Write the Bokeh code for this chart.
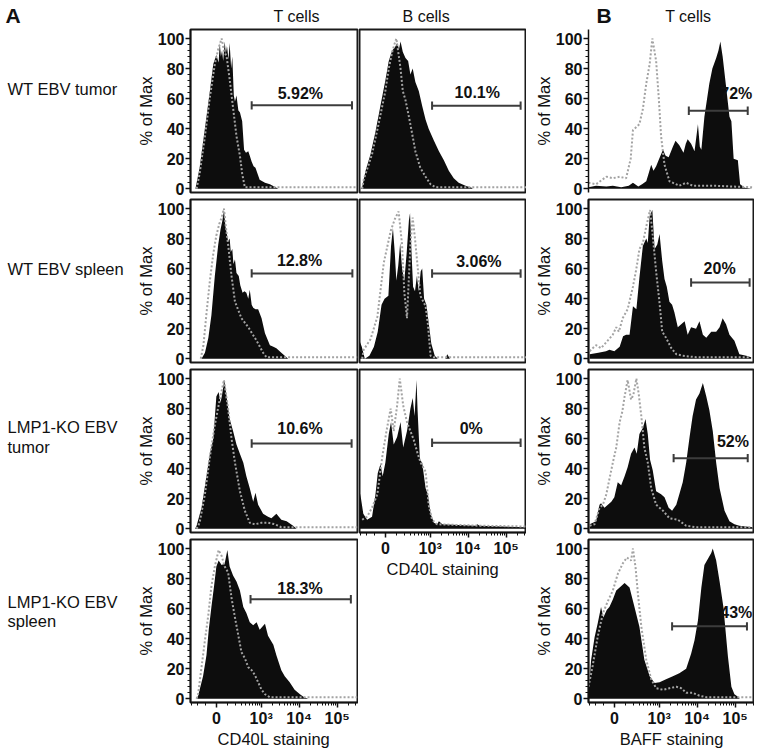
import numpy as np
from bokeh.plotting import figure
from bokeh.models import Range1d, FixedTicker
from bokeh.layouts import row, column
from bokeh.embed import file_html
from bokeh.resources import INLINE
from bokeh.core.properties import value

# ---------------- axis / labels ----------------
# x positions are in display (biexponential) units: 0 -> 1.82, 10^3 -> 3, 10^4 -> 4, 10^5 -> 5
x_tick_pos = [1.82, 3, 4, 5]
x_tick_labels = ["0", "10³", "10⁴", "10⁵"]
y_ticks = [0, 20, 40, 60, 80, 100]
row_labels = ["WT EBV tumor", "WT EBV spleen", "LMP1-KO EBV", "tumor", "LMP1-KO EBV", "spleen"]
col_titles = ["T cells", "B cells", "T cells"]
panel_letters = ["A", "B"]
x_titles = ["CD40L staining", "CD40L staining", "BAFF staining"]

# ---------------- A: T cells, CD40L ----------------
at1_fill_x = [1.27,1.38,1.47,1.56,1.65,1.74,1.82,1.88,1.91,1.94,1.97,2.00,2.04,2.07,2.10,2.14,2.17,2.21,2.24,2.28,2.31,2.35,2.40,2.44,2.50,2.55,2.60,2.66,2.70,2.75,2.80,2.85,2.96,3.10,3.23,3.45]
at1_fill_y = [0,14,31,48,65,83,89,84,97,88,92,85,98,90,95,86,97,80,88,62,58,62,52,51,45,26,24,25,22,18,15,14,6,4,3,0]
at1_ctrl_x = [1.30,1.38,1.52,1.65,1.78,1.87,1.96,2.02,2.09,2.17,2.26,2.35,2.44,2.50,2.57,5.53]
at1_ctrl_y = [0,10,35,61,83,93,100,92,88,73,54,35,22,10,1,1]

at2_fill_x = [1.43,1.52,1.61,1.69,1.78,1.87,1.93,1.98,2.02,2.06,2.09,2.13,2.17,2.20,2.24,2.27,2.31,2.35,2.41,2.45,2.51,2.56,2.61,2.66,2.70,2.75,2.79,2.85,2.92,3.01,3.10,3.23,3.32,3.40,3.53,3.71]
at2_fill_y = [0,4,14,29,55,76,86,92,99,88,84,78,80,71,73,63,66,57,55,49,44,45,44,40,46,36,34,33,33,27,17,9,8,7,4,0]
at2_ctrl_x = [1.41,1.48,1.56,1.65,1.74,1.82,1.90,1.96,2.02,2.07,2.13,2.22,2.31,2.48,2.66,2.88,3.05,3.14,5.53]
at2_ctrl_y = [0,9,30,52,70,82,90,94,100,88,76,55,38,27,21,12,4,1,1]

at3_fill_x = [1.26,1.30,1.43,1.56,1.65,1.74,1.82,1.88,1.93,1.97,2.03,2.09,2.17,2.26,2.35,2.44,2.53,2.61,2.70,2.79,2.85,2.92,3.05,3.18,3.27,3.40,3.53,3.67,3.84,3.93]
at3_fill_y = [0,2,14,35,50,60,88,91,84,89,99,88,73,65,56,50,44,35,27,18,24,16,10,8,7,10,6,5,2,0]
at3_ctrl_x = [1.30,1.38,1.52,1.65,1.78,1.91,2.02,2.13,2.22,2.31,2.44,2.57,2.70,2.83,3.01,3.18,3.36,3.53,5.53]
at3_ctrl_y = [0,4,23,48,69,86,99,80,60,44,25,12,4,3,4,4,3,1,1]

at4_fill_x = [1.30,1.34,1.47,1.56,1.62,1.69,1.76,1.82,1.88,1.96,2.04,2.11,2.17,2.26,2.35,2.44,2.53,2.61,2.70,2.79,2.88,2.96,3.10,3.18,3.32,3.40,3.53,3.62,3.75,3.88,4.02,4.13,4.24]
at4_fill_y = [0,2,15,29,46,61,75,88,92,89,90,99,88,82,78,72,61,57,51,49,51,46,50,42,36,29,19,15,11,6,3,1,0]
at4_ctrl_x = [1.30,1.34,1.43,1.52,1.61,1.69,1.78,1.88,1.96,2.04,2.13,2.22,2.31,2.40,2.48,2.57,2.66,2.75,2.83,2.92,3.01,3.10,3.23,5.53]
at4_ctrl_y = [0,3,21,39,56,75,88,99,95,88,84,67,54,42,31,27,21,19,16,11,6,3,1,1]

at_gate_lo = [2.75, 2.75, 2.75, 2.72]
at_gate_hi = [5.39, 5.40, 5.38, 5.36]
at_gate_y = [55.5, 56.8, 56.7, 66.2]
at_label_x = [4.03, 4.01, 4.02, 4.02]
at_label_y = [63.1, 65.2, 66.7, 73.6]
at_pct = ["5.92%", "12.8%", "10.6%", "18.3%"]

# ---------------- A: B cells, CD40L ----------------
ab1_fill_x = [1.17,1.21,1.30,1.43,1.56,1.69,1.82,1.91,2.00,2.07,2.13,2.18,2.22,2.28,2.35,2.42,2.48,2.54,2.61,2.70,2.79,2.88,2.96,3.10,3.23,3.36,3.49,3.62,3.75,3.93,4.11]
ab1_fill_y = [0,1,12,23,38,55,72,85,92,94,97,93,98,91,87,85,76,80,71,65,55,46,40,32,25,19,12,7,4,2,0.5]
ab1_ctrl_x = [1.21,1.25,1.47,1.65,1.82,1.91,2.00,2.07,2.11,2.16,2.22,2.28,2.35,2.44,2.53,2.61,2.74,2.88,3.01,3.14,5.53]
ab1_ctrl_y = [0,6,23,44,65,80,91,97,100,91,80,65,59,48,36,25,14,8,3,1,1]

ab2_fill_x = [1.14,1.20,1.28,1.40,1.52,1.62,1.72,1.80,1.90,1.97,2.02,2.07,2.11,2.16,2.21,2.26,2.32,2.38,2.44,2.47,2.51,2.55,2.60,2.65,2.70,2.75,2.79,2.84,2.90,2.97,3.03,3.12,3.20,3.40,3.45,3.52]
ab2_fill_y = [12,8,0,2,8,18,36,40,42,75,87,70,52,62,77,60,52,70,92,97,70,48,45,55,45,58,60,40,36,22,10,2,0,0,3,0]
ab2_ctrl_x = [1.21,1.25,1.43,1.61,1.78,1.96,2.07,2.17,2.26,2.32,2.39,2.48,2.54,2.60,2.66,2.74,2.88,2.94,3.01,3.10,5.53]
ab2_ctrl_y = [0,6,13,28,64,85,93,98,76,44,27,76,94,80,64,42,35,23,2,1,1]

ab3_fill_x = [1.15,1.18,1.24,1.34,1.47,1.56,1.62,1.69,1.75,1.82,1.91,1.97,2.04,2.13,2.22,2.29,2.39,2.48,2.54,2.59,2.64,2.67,2.73,2.79,2.88,2.94,3.01,3.10,3.18,3.23,3.32,4.20,4.24,4.30,5.53]
ab3_fill_y = [24,20,10,6,8,23,37,43,35,44,63,71,56,61,71,54,65,80,87,75,99,78,46,44,27,23,10,4,3,5,3,2,3,2,1]
ab3_ctrl_x = [1.21,1.34,1.47,1.61,1.74,1.85,1.96,2.04,2.13,2.20,2.29,2.39,2.48,2.57,2.67,2.75,2.88,2.96,3.05,3.18,4.32,5.53]
ab3_ctrl_y = [6,8,14,23,48,65,80,65,82,100,82,71,65,59,50,44,38,16,6,3,2,1.5]

ab_gate_lo = [3.05, 3.05, 3.05]
ab_gate_hi = [5.38, 5.38, 5.38]
ab_gate_y = [55.3, 56.7, 57.2]
ab_label_x = [4.24, 4.28, 4.08]
ab_label_y = [64.2, 65.0, 66.7]
ab_pct = ["10.1%", "3.06%", "0%"]

# ---------------- B: T cells, BAFF ----------------
bt1_fill_x = [1.14,1.34,1.61,1.78,2.00,2.20,2.31,2.45,2.55,2.66,2.72,2.79,2.85,2.92,3.00,3.10,3.17,3.25,3.36,3.43,3.53,3.64,3.70,3.75,3.84,3.93,4.02,4.07,4.11,4.19,4.32,4.40,4.50,4.56,4.61,4.67,4.76,4.85,4.90,4.96,5.07,5.13,5.25,5.45]
bt1_fill_y = [1,2,1.5,2,1,2,4,1.5,3,5,10,16,12,15,20,26,22,21,28,32,29,24,30,33,30,25,43,28,26,48,70,80,87,92,98,88,68,48,45,20,19,3,0.7,0]
bt1_ctrl_x = [1.14,1.34,1.50,1.61,1.78,1.96,2.13,2.25,2.31,2.48,2.57,2.66,2.75,2.82,2.92,2.99,3.05,3.14,3.27,3.53,3.71,3.88,4.41,5.45]
bt1_ctrl_y = [4,3,6,8,7,8,7,20,39,43,53,70,83,100,85,60,35,16,5,2,4,2,2,1]

bt2_fill_x = [1.17,1.40,1.60,1.69,1.82,1.96,2.05,2.13,2.22,2.31,2.40,2.48,2.57,2.66,2.70,2.75,2.82,2.88,2.95,3.01,3.08,3.14,3.20,3.27,3.34,3.40,3.49,3.58,3.67,3.75,3.84,3.97,4.06,4.15,4.24,4.37,4.50,4.59,4.67,4.76,4.85,4.98,5.11,5.29,5.42]
bt2_fill_y = [3,4,5,6,5,8,15,16,16,35,33,54,75,80,77,95,99,73,76,83,65,53,48,38,36,31,21,23,25,16,21,20,25,16,14,18,18,21,27,23,16,12,3,2,1]
bt2_ctrl_x = [1.17,1.25,1.34,1.47,1.61,1.78,1.87,1.94,2.04,2.17,2.31,2.40,2.48,2.57,2.66,2.76,2.83,2.92,3.01,3.08,3.18,3.32,3.45,3.62,3.97,5.40]
bt2_ctrl_y = [5,7,9,7,11,16,21,18,27,33,48,60,73,77,88,99,82,58,37,18,14,7,3,2,1,1]

bt3_fill_x = [1.17,1.34,1.43,1.47,1.56,1.65,1.74,1.82,1.91,2.00,2.09,2.17,2.26,2.35,2.41,2.48,2.57,2.64,2.70,2.76,2.83,2.92,3.05,3.14,3.25,3.34,3.45,3.53,3.62,3.71,3.80,3.88,3.97,4.06,4.15,4.24,4.32,4.41,4.50,4.59,4.72,4.85,4.98,5.11,5.46]
bt3_fill_y = [3,5,16,17,14,16,18,21,31,29,35,41,50,54,50,63,67,73,63,46,39,25,23,21,14,12,16,23,31,44,61,75,86,90,97,88,79,65,44,27,12,5,3,2,1]
bt3_ctrl_x = [1.17,1.30,1.43,1.52,1.61,1.69,1.78,1.87,1.96,2.03,2.09,2.17,2.26,2.32,2.40,2.46,2.53,2.61,2.70,2.79,2.92,3.10,3.27,3.49,3.71,3.97,5.46]
bt3_ctrl_y = [2,3,14,16,23,33,44,54,71,78,88,99,86,89,100,90,75,54,44,27,16,12,7,6,2,1,1]

bt4_fill_x = [1.14,1.21,1.30,1.38,1.47,1.53,1.62,1.69,1.78,1.87,1.96,2.09,2.22,2.35,2.48,2.61,2.75,2.88,3.01,3.18,3.36,3.53,3.71,3.84,3.93,4.02,4.11,4.19,4.28,4.37,4.41,4.50,4.59,4.69,4.81,4.90,4.98,5.11]
bt4_fill_y = [4,26,41,50,61,54,59,61,66,72,74,77,74,61,48,26,15,10.5,11,13,15,17,20,30,39,52,74,89,93,97,100,92,78,61,28,8,3,0.7]
bt4_ctrl_x = [1.14,1.25,1.38,1.52,1.65,1.78,1.91,2.04,2.15,2.26,2.31,2.38,2.44,2.53,2.66,2.79,2.92,3.10,3.27,3.45,3.58,3.71,3.88,4.06,4.24,5.46]
bt4_ctrl_y = [8,22,41,57,65,72,83,90,94,92,100,87,70,48,26,13,7,6,7,8,7,4,4,2,1,1]

bt_gate_lo = [3.78, 3.84, 3.38, 3.34]
bt_gate_hi = [5.33, 5.38, 5.33, 5.31]
bt_gate_y = [51.9, 50.8, 47.0, 48.2]
bt_label_x = [5.03, 4.59, 4.94, 5.03]
bt_label_y = [63.5, 59.9, 58.2, 57.7]
bt_pct = ["72%", "20%", "52%", "43%"]

# ---------------- styling / geometry ----------------
FONT = "Liberation Sans"
INK = "#111111"
FILL = "#0d0d0d"
CTRL = "#a3a3a3"
GATE = "#3c3c3c"
FH = 163          # frame height of each histogram
HEAD = 28         # header strip height
X0 = 1.14
PX_PER_UNIT = 38.0
LABEL_W = 133     # width of the row-label strip
PAGE_H = 748

# minor ticks: log decades plus biexponential region around zero
_minor = [np.log10(k * 10.0 ** n) for n in (3, 4, 5) for k in range(2, 10)]
_lin = [-300, -200, -100, 100, 200, 300, 400, 500, 600, 700, 800, 900]
_minor += [1.82 + 1.18 * np.arcsinh(v / 150.0) / np.arcsinh(1000 / 150.0) for v in _lin]
minor_x = [float(m) for m in _minor if 1.15 < m < 5.5]


def style_axis(ax):
    ax.axis_line_color = INK
    ax.axis_line_width = 1.5
    ax.major_tick_line_color = INK
    ax.major_tick_line_width = 1.5
    ax.minor_tick_line_color = INK
    ax.minor_tick_line_width = 1
    ax.major_tick_out = 5
    ax.major_tick_in = 0
    ax.minor_tick_out = 3
    ax.minor_tick_in = 0
    ax.major_label_text_font = FONT
    ax.major_label_text_font_style = "bold"
    ax.major_label_text_color = INK
    ax.axis_label_text_font = FONT
    ax.axis_label_text_font_style = "normal"
    ax.axis_label_text_font_size = "16.5px"
    ax.axis_label_text_color = INK


def blank(width, height, x_range, y_range):
    p = figure(width=width, height=height, x_range=x_range, y_range=y_range,
               output_backend="svg", toolbar_location=None,
               x_axis_location=None, y_axis_location=None,
               min_border=0, background_fill_color="white", border_fill_color="white")
    p.grid.grid_line_color = None
    p.outline_line_color = None
    return p


def put_text(p, xs, ys, texts, size="16.5px", style="normal", align="left"):
    # ys are the vertical centres of the texts (page pixels)
    p.text(x=xs, y=ys, text=texts, text_font=value(FONT), text_font_size=size,
           text_font_style=style, text_align=align, text_baseline="middle", text_color=INK)


def panel(fx, fy, cx, cy, glo, ghi, gy, lx, ly, pct, fw, left, right, top, bottom,
          yaxis=True, xtitle=None, outline=True):
    p = figure(frame_width=fw, frame_height=FH,
               x_range=Range1d(X0, X0 + fw / PX_PER_UNIT), y_range=Range1d(-2.5, 106),
               output_backend="svg", toolbar_location=None,
               x_axis_location="below" if xtitle else None,
               y_axis_location="left" if yaxis else None,
               min_border_left=left, min_border_right=right,
               min_border_top=top, min_border_bottom=bottom,
               background_fill_color="white", border_fill_color="white")
    p.grid.grid_line_color = None
    p.outline_line_color = "#1a1a1a" if outline else None
    p.outline_line_width = 2

    p.varea(x=fx, y1=0, y2=fy, fill_color=FILL)
    p.line(cx, cy, line_color=CTRL, line_width=2, line_dash="2 2")

    p.segment(x0=[glo], y0=[gy], x1=[ghi], y1=[gy], line_color=GATE, line_width=2)
    p.segment(x0=[glo, ghi], y0=[gy - 2.8, gy - 2.8], x1=[glo, ghi], y1=[gy + 2.8, gy + 2.8],
              line_color=GATE, line_width=2)
    p.text(x=[lx], y=[ly], text=[pct], text_font=value(FONT), text_font_style="bold",
           text_font_size="16px", text_align="center", text_baseline="middle", text_color=INK)

    if yaxis:
        ax = p.yaxis[0]
        style_axis(ax)
        ax.ticker = FixedTicker(ticks=y_ticks, minor_ticks=list(range(0, 101, 4)))
        ax.major_label_text_font_size = "16px"
        ax.major_label_standoff = 1
        ax.axis_label = "% of Max"
        ax.axis_label_standoff = 0
    if xtitle:
        ax = p.xaxis[0]
        style_axis(ax)
        ax.ticker = FixedTicker(ticks=x_tick_pos, minor_ticks=minor_x)
        ov = {}
        for t, s in zip(x_tick_pos, x_tick_labels):
            ov[t] = s
            ov[str(t)] = s
        ax.major_label_overrides = ov
        ax.major_label_text_font_size = "16px"
        ax.major_label_standoff = 2
        ax.axis_label = xtitle
        ax.axis_label_standoff = 0
    return p


# ---------------- build panels ----------------
at_data = [(at1_fill_x, at1_fill_y, at1_ctrl_x, at1_ctrl_y),
           (at2_fill_x, at2_fill_y, at2_ctrl_x, at2_ctrl_y),
           (at3_fill_x, at3_fill_y, at3_ctrl_x, at3_ctrl_y),
           (at4_fill_x, at4_fill_y, at4_ctrl_x, at4_ctrl_y)]
ab_data = [(ab1_fill_x, ab1_fill_y, ab1_ctrl_x, ab1_ctrl_y),
           (ab2_fill_x, ab2_fill_y, ab2_ctrl_x, ab2_ctrl_y),
           (ab3_fill_x, ab3_fill_y, ab3_ctrl_x, ab3_ctrl_y)]
bt_data = [(bt1_fill_x, bt1_fill_y, bt1_ctrl_x, bt1_ctrl_y),
           (bt2_fill_x, bt2_fill_y, bt2_ctrl_x, bt2_ctrl_y),
           (bt3_fill_x, bt3_fill_y, bt3_ctrl_x, bt3_ctrl_y),
           (bt4_fill_x, bt4_fill_y, bt4_ctrl_x, bt4_ctrl_y)]

AT_LEFT, AT_FW, AT_RIGHT = 57, 167, 1
AB_LEFT, AB_FW, AB_RIGHT = 1, 167, 0
BT_LEFT, BT_FW, BT_RIGHT = 62, 166, 0

at_figs = []
for i, (fx, fy, cx, cy) in enumerate(at_data):
    last = i == 3
    at_figs.append(panel(fx, fy, cx, cy, at_gate_lo[i], at_gate_hi[i], at_gate_y[i], at_label_x[i],
                         at_label_y[i], at_pct[i], AT_FW, AT_LEFT, AT_RIGHT, 1, 0 if last else 6,
                         yaxis=True, xtitle=x_titles[0] if last else None))

ab_figs = []
for i, (fx, fy, cx, cy) in enumerate(ab_data):
    last = i == 2
    ab_figs.append(panel(fx, fy, cx, cy, ab_gate_lo[i], ab_gate_hi[i], ab_gate_y[i], ab_label_x[i],
                         ab_label_y[i], ab_pct[i], AB_FW, AB_LEFT, AB_RIGHT, 1, 0 if last else 6,
                         yaxis=False, xtitle=x_titles[1] if last else None))

bt_figs = []
for i, (fx, fy, cx, cy) in enumerate(bt_data):
    last = i == 3
    bt_figs.append(panel(fx, fy, cx, cy, bt_gate_lo[i], bt_gate_hi[i], bt_gate_y[i], bt_label_x[i],
                         bt_label_y[i], bt_pct[i], BT_FW, BT_LEFT, BT_RIGHT, 1, 0 if last else 6,
                         yaxis=True, xtitle=x_titles[2] if last else None, outline=(i != 0)))

# ---------------- text strips (page pixel coordinates) ----------------
# row labels on the far left, panel letter A on top
lab = blank(LABEL_W, PAGE_H, Range1d(0, LABEL_W), Range1d(PAGE_H, 0))
put_text(lab, [7, 7, 7, 7, 7, 7], [88, 268, 426, 446, 601, 620], row_labels)
put_text(lab, [5], [15], [panel_letters[0]], size="21px", style="bold")

at_w = AT_LEFT + AT_FW + AT_RIGHT
ab_w = AB_LEFT + AB_FW + AB_RIGHT
bt_w = BT_LEFT + BT_FW + BT_RIGHT
x_at = LABEL_W
x_ab = x_at + at_w
x_bt = x_ab + ab_w

head_at = blank(at_w, HEAD, Range1d(x_at, x_at + at_w), Range1d(HEAD, 0))
put_text(head_at, [276], [16], [col_titles[0]], size="16px", align="center")
head_ab = blank(ab_w, HEAD, Range1d(x_ab, x_ab + ab_w), Range1d(HEAD, 0))
put_text(head_ab, [425], [16], [col_titles[1]], size="16px", align="center")
head_bt = blank(bt_w, HEAD, Range1d(x_bt, x_bt + bt_w), Range1d(HEAD, 0))
put_text(head_bt, [663], [16], [col_titles[2]], size="16px", align="center")
put_text(head_bt, [537], [15], [panel_letters[1]], size="21px", style="bold")

layout = row(lab,
             column(head_at, *at_figs),
             column(head_ab, *ab_figs),
             column(head_bt, *bt_figs))

with open("out.html", "w") as f:
    f.write(file_html(layout, INLINE, title="CD40L and BAFF staining"))
